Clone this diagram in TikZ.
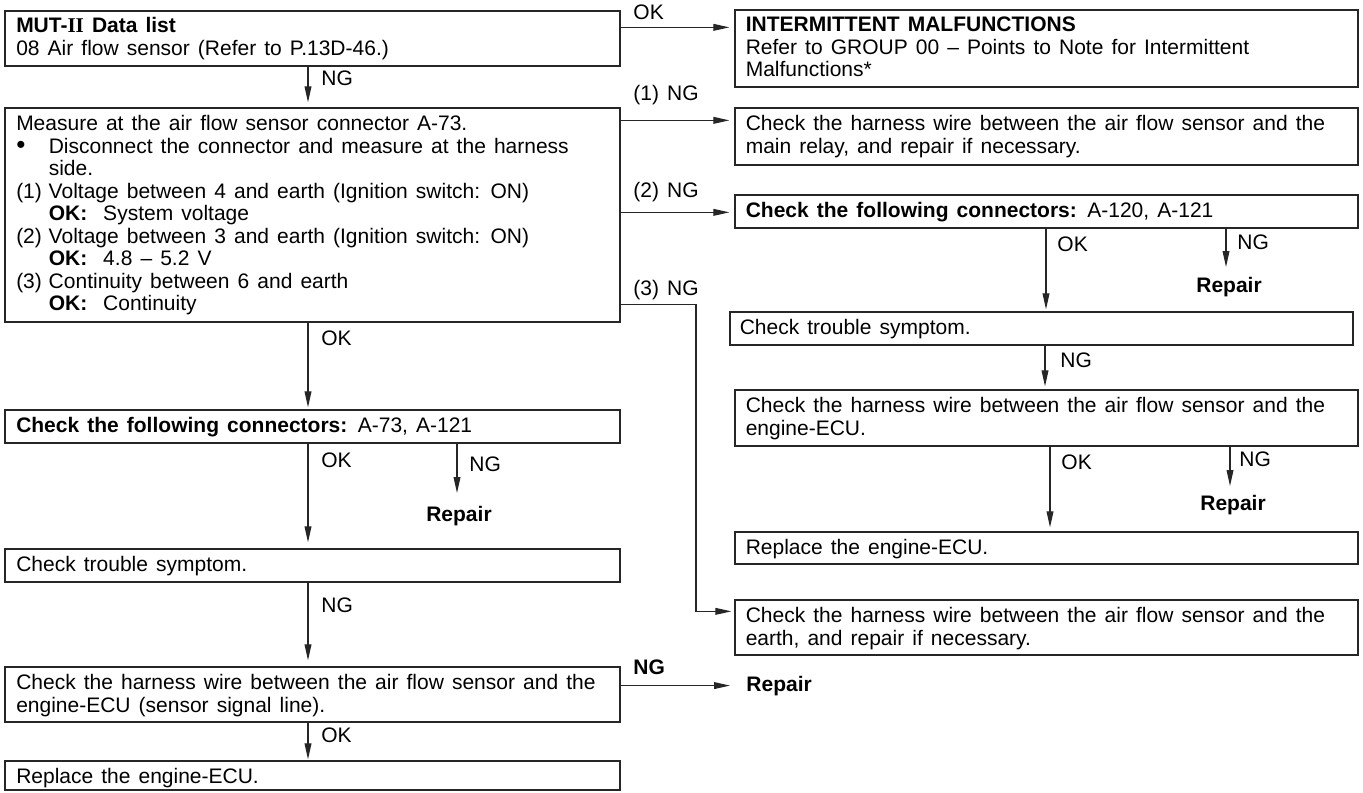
\documentclass[tikz,border=0pt]{standalone}
\usepackage{fontspec}
\setmainfont{Liberation Sans}
\newfontfamily\romanfont{Liberation Serif}
\usetikzlibrary{arrows.meta,fit,calc}
% text size and the wide word spacing of the chart
\newcommand\fsz{\fontsize{10.5pt}{11.25pt}\selectfont}
\newcommand\wsp{\spaceskip=0.385em plus 0.1em minus 0.05em\relax}
\newcommand\ind[1]{\makebox[16.25pt][l]{#1}}
\newcommand\okv{\textbf{OK:}\hspace{8pt}}
\newcommand\bul{{\fontsize{13pt}{11.25pt}\selectfont\textbullet}}

\begin{document}
\begin{tikzpicture}[x=0.5pt,y=-0.5pt,
  box/.style={draw=black!85, line width=0.65pt, inner sep=0pt},
  txt/.style={anchor=north west, inner sep=0pt, text width=310pt, align=left, font=\fsz,
    execute at begin node=\wsp},
  lab/.style={anchor=base west, inner sep=0pt, font=\fsz, execute at begin node=\wsp},
  blab/.style={lab, font=\fsz\bfseries},
  arr/.style={draw=black!85, line width=0.55pt, -{Triangle[length=8pt,width=3.4pt]}, shorten >=1pt},
]
\useasboundingbox (0,0) rectangle (1363,792);

% ---- left column boxes
\node[box, fit={(5,11)(620,66)}] (b1) {};
\node[box, fit={(5,108)(620,322)}] (b2) {};
\node[box, fit={(5,410)(620,443)}] (b3) {};
\node[box, fit={(5,549)(620,582)}] (b4) {};
\node[box, fit={(5,667)(620,722)}] (b5) {};
\node[box, fit={(5,761)(620,790)}] (b6) {};

% ---- right column boxes
\node[box, fit={(735,10)(1358,87)}] (r1) {};
\node[box, fit={(735,108)(1358,165)}] (r2) {};
\node[box, fit={(735,195)(1358,228)}] (r3) {};
\node[box, fit={(730,312)(1353,345)}] (r4) {};
\node[box, fit={(735,390)(1358,446)}] (r5) {};
\node[box, fit={(735,532)(1358,564)}] (r6) {};
\node[box, fit={(735,600)(1358,655)}] (r7) {};

% ---- box texts
\node[txt] (tb1) at ($(b1.north west)+(11.5,6.5)$) {\strut\textbf{MUT-{\romanfont II} Data list}\\
  08 Air flow sensor (Refer to P.13D-46.)};
\node[txt] (tb2) at ($(b2.north west)+(11.5,7.25)$) {\strut Measure at the air flow sensor connector A-73.\\
  \ind{\bul}Disconnect the connector and measure at the harness\\
  \ind{}side.\\
  \ind{(1)}Voltage between 4 and earth (Ignition switch: ON)\\
  \ind{}\okv System voltage\\
  \ind{(2)}Voltage between 3 and earth (Ignition switch: ON)\\
  \ind{}\okv 4.8 -- 5.2 V\\
  \ind{(3)}Continuity between 6 and earth\\
  \ind{}\okv Continuity};
\node[txt] (tb3) at ($(b3.north west)+(11.5,7.25)$) {\strut\textbf{Check the following connectors:} A-73, A-121};
\node[txt] (tb4) at ($(b4.north west)+(11.5,7.25)$) {\strut Check trouble symptom.};
\node[txt] (tb5) at ($(b5.north west)+(11.5,7.25)$) {\strut Check the harness wire between the air flow sensor and the\\
  engine-ECU (sensor signal line).};
\node[txt] (tb6) at ($(b6.north west)+(11.5,7)$) {\strut Replace the engine-ECU.};

\node[txt] (tr1) at ($(r1.north west)+(11,6.5)$) {\strut\textbf{INTERMITTENT MALFUNCTIONS}\\
  Refer to GROUP 00 -- Points to Note for Intermittent\\
  Malfunctions*};
\node[txt] (tr2) at ($(r2.north west)+(11,7.25)$) {\strut Check the harness wire between the air flow sensor and the\\
  main relay, and repair if necessary.};
\node[txt] (tr3) at ($(r3.north west)+(11,7.25)$) {\strut\textbf{Check the following connectors:} A-120, A-121};
\node[txt] (tr4) at ($(r4.north west)+(10,7.25)$) {\strut Check trouble symptom.};
\node[txt] (tr5) at ($(r5.north west)+(11,7.25)$) {\strut Check the harness wire between the air flow sensor and the\\
  engine-ECU.};
\node[txt] (tr6) at ($(r6.north west)+(11,7.25)$) {\strut Replace the engine-ECU.};
\node[txt] (tr7) at ($(r7.north west)+(11,7.25)$) {\strut Check the harness wire between the air flow sensor and the\\
  earth, and repair if necessary.};

% ---- free "Repair" results
\node[blab, anchor=base] (rep1) at (459,521) {Repair};
\node[blab, anchor=base] (rep2) at (1229,292) {Repair};
\node[blab, anchor=base] (rep3) at (1233,510) {Repair};
\node[blab] (rep4) at (746,691) {Repair};

% ---- helper coordinates
\coordinate (xl) at (308,0);
\coordinate (xr1) at (1046,0);
\coordinate (xr2) at (1045,0);
\coordinate (xr3) at (1050,0);
\coordinate (k3) at (696,0);
\coordinate (n1) at (457,493);
\coordinate (n2) at (1226,267);
\coordinate (n3) at (1230,486);
\coordinate (c0) at ($(r1.north west)+(0,18)$);
\coordinate (c1) at ($(r2.north west)+(0,13)$);
\coordinate (c2) at ($(r3.north west)+(0,18)$);
\coordinate (c3) at ($(b2.south east)+(0,-18)$);
\coordinate (c4) at ($(r7.north west)+(0,12)$);

% ---- left column flow
\draw[arr, shorten >=2.5pt] (b1.south -| xl) -- (b2.north -| xl);
\draw[arr] (b2.south -| xl) -- (b3.north -| xl);
\draw[arr, shorten >=3pt] (b3.south -| xl) -- (b4.north -| xl);
\draw[arr, shorten >=3pt] (b4.south -| xl) -- (b5.north -| xl);
\draw[arr, shorten >=0.5pt] (b5.south -| xl) -- (b6.north -| xl);
\draw[arr, shorten >=0pt] (b3.south -| n1) -- (n1);
\draw[arr, shorten >=8pt] (rep4.west -| b5.east) -- (rep4.west);

% ---- branches to the right column
\draw[arr, shorten >=2.5pt] (c0 -| b1.east) -- (c0);
\draw[arr, shorten >=2.5pt] (c1 -| b2.east) -- (c1);
\draw[arr, shorten >=2.5pt] (c2 -| b2.east) -- (c2);
\draw[arr, shorten >=1.5pt] (c3) -| (k3 |- c4) -- (c4);

% ---- right column flow
\draw[arr] (r3.south -| xr1) -- (r4.north -| xr1);
\draw[arr, shorten >=0pt] (r3.south -| n2) -- (n2);
\draw[arr, shorten >=1.5pt] (r4.south -| xr2) -- (r5.north -| xr2);
\draw[arr, shorten >=2pt] (r5.south -| xr3) -- (r6.north -| xr3);
\draw[arr, shorten >=0pt] (r5.south -| n3) -- (n3);

% ---- connector labels
\node[lab] (l1) at (633,20) {OK};
\node[lab] (l2) at (321,85) {NG};
\node[lab] (l3) at (633,101) {(1) NG};
\node[lab] (l4) at (633,197) {(2) NG};
\node[lab] (l5) at (633,295) {(3) NG};
\node[lab] (l6) at (321,345) {OK};
\node[lab] (l7) at (321,467) {OK};
\node[lab] (l8) at (469,471) {NG};
\node[lab] (l9) at (321,612) {NG};
\node[blab] (l10) at (633,674) {NG};
\node[lab] (l11) at (321,742) {OK};
\node[lab] (l12) at (1057,251) {OK};
\node[lab] (l13) at (1237,249) {NG};
\node[lab] (l14) at (1060,367) {NG};
\node[lab] (l15) at (1061,469) {OK};
\node[lab] (l16) at (1239,466) {NG};
\end{tikzpicture}
\end{document}
